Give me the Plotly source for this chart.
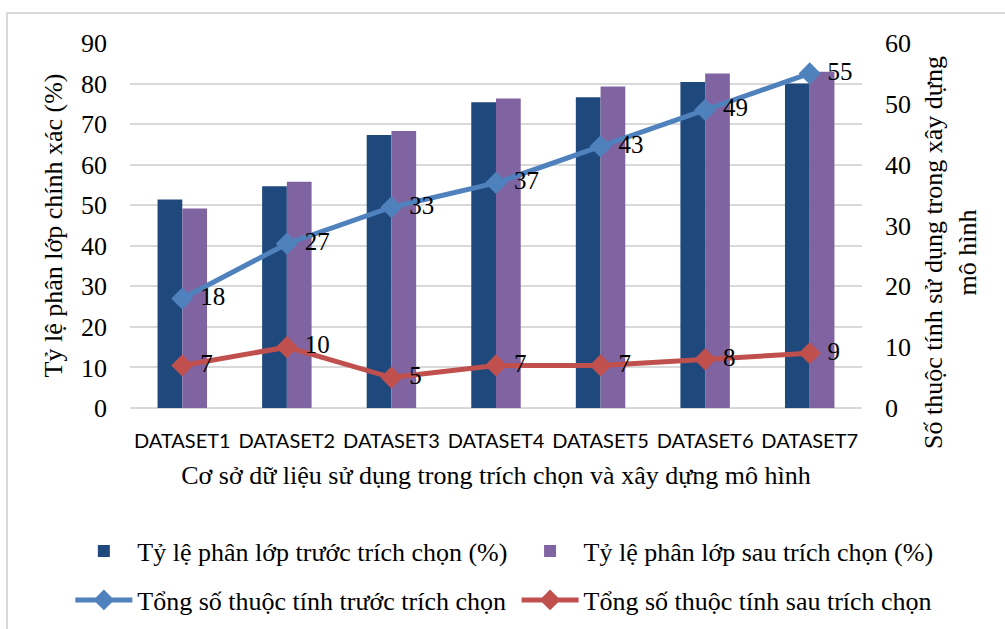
import plotly.graph_objects as go

categories = ["DATASET1", "DATASET2", "DATASET3", "DATASET4", "DATASET5", "DATASET6", "DATASET7"]
acc_before = [51.4, 54.7, 67.3, 75.4, 76.6, 80.4, 80.0]
acc_after = [49.2, 55.8, 68.3, 76.3, 79.3, 82.5, 82.9]
attr_before = [18, 27, 33, 37, 43, 49, 55]
attr_after = [7, 10, 5, 7, 7, 8, 9]

name_bar1 = "Tỷ lệ phân lớp trước trích chọn (%)"
name_bar2 = "Tỷ lệ phân lớp sau trích chọn (%)"
name_line1 = "Tổng số thuộc tính trước trích chọn"
name_line2 = "Tổng số thuộc tính sau trích chọn"
x_title = "Cơ sở dữ liệu sử dụng trong trích chọn và xây dựng mô hình"
y_title = "Tỷ lệ phân lớp chính xác (%)"
y2_title = "Số thuộc tính sử dụng trong xây dựng<br>mô hình"

SERIF = "Liberation Serif"
SANS = "Lato"
TXT = "#000000"
FS = 26
NB = "\u00a0"

fig = go.Figure()
fig.add_trace(go.Bar(x=categories, y=acc_before, name=name_bar1,
                     marker=dict(color="#1F497D", line=dict(width=0)), legend="legend"))
fig.add_trace(go.Bar(x=categories, y=acc_after, name=name_bar2,
                     marker=dict(color="#8064A2", line=dict(width=0)), legend="legend2"))
fig.add_trace(go.Scatter(x=categories, y=attr_before, name=name_line1, yaxis="y2",
                         mode="lines+markers+text", text=[NB + str(v) for v in attr_before],
                         textposition="middle right",
                         textfont=dict(family=SERIF, size=25, color=TXT),
                         line=dict(color="#4F81BD", width=5),
                         marker=dict(symbol="diamond", size=17, color="#4F81BD"),
                         legend="legend3", cliponaxis=False))
fig.add_trace(go.Scatter(x=categories, y=attr_after, name=name_line2, yaxis="y2",
                         mode="lines+markers+text", text=[NB + str(v) for v in attr_after],
                         textposition="middle right",
                         textfont=dict(family=SERIF, size=25, color=TXT),
                         line=dict(color="#C0504D", width=5),
                         marker=dict(symbol="diamond", size=17, color="#C0504D"),
                         legend="legend4", cliponaxis=False))


def leg(x, y):
    return dict(orientation="h", xref="container", yref="container", x=x, y=y,
                xanchor="left", yanchor="middle", itemwidth=57,
                font=dict(family=SERIF, size=FS, color=TXT),
                bgcolor="rgba(0,0,0,0)", borderwidth=0)


fig.update_layout(
    width=1005, height=629,
    margin=dict(l=130, r=143, t=43, b=221),
    paper_bgcolor="white", plot_bgcolor="white",
    barmode="group", bargap=0.527, bargroupgap=0,
    font=dict(family=SERIF, size=FS, color=TXT),
    xaxis=dict(showgrid=False, showline=False, zeroline=False,
               tickfont=dict(family=SANS, size=20, color=TXT),
               ticks="", ticklabelstandoff=19,
               title=dict(text=x_title, font=dict(family=SERIF, size=FS, color=TXT), standoff=14)),
    yaxis=dict(range=[0, 90], dtick=10, showgrid=True, gridcolor="#D9D9D9", gridwidth=1.5,
               zeroline=True, zerolinecolor="#D9D9D9", zerolinewidth=1.5, showline=False,
               tickfont=dict(family=SERIF, size=FS, color=TXT), ticks="", ticklabelstandoff=22,
               title=dict(text=y_title, font=dict(family=SERIF, size=FS, color=TXT), standoff=10)),
    yaxis2=dict(range=[0, 60], dtick=10, overlaying="y", side="right", showgrid=False,
                zeroline=False, showline=False, ticks="", ticklabelstandoff=22,
                tickfont=dict(family=SERIF, size=FS, color=TXT)),
    legend=leg(0.07, 0.124),
    legend2=leg(0.514, 0.124),
    legend3=leg(0.07, 0.046),
    legend4=leg(0.514, 0.046),
    showlegend=True,
)

fig.add_annotation(text=y2_title, xref="paper", yref="paper", x=1.1216, y=0.4247,
                   xanchor="center", yanchor="middle", textangle=-90, showarrow=False,
                   font=dict(family=SERIF, size=FS, color=TXT))

fig.add_shape(type="rect", xref="paper", yref="paper",
              x0=-0.168, y0=-0.8, x1=1.4, y1=1.082,
              line=dict(color="#D9D9D9", width=2), fillcolor="rgba(0,0,0,0)", layer="below")

fig.write_html("out.html")
